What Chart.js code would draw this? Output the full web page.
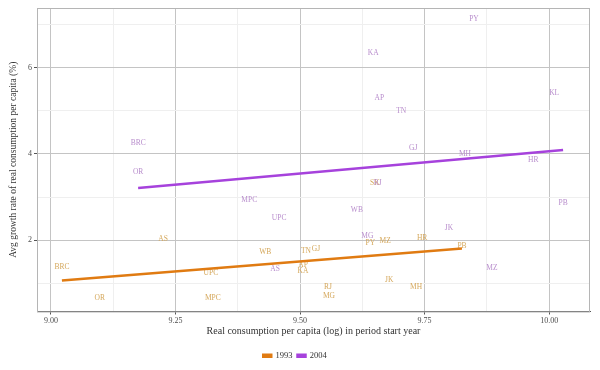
<!DOCTYPE html>
<html>
<head>
<meta charset="utf-8">
<script src="https://cdn.jsdelivr.net/npm/chart.js@4"></script>
<style>
  html, body { margin: 0; padding: 0; background: #fff; }
  #wrap { width: 600px; height: 370px; }
</style>
</head>
<body>
<div id="wrap"><canvas id="growthChart" width="600" height="370"></canvas></div>
<script>
// state labels and values
const states93 = ['BRC', 'OR', 'AS', 'UPC', 'MPC', 'WB', 'TN', 'GJ', 'AP', 'KA', 'RJ', 'MG', 'PY', 'MZ', 'JK', 'MH', 'HR', 'PB', 'SK'];
const cons93 = [9.022, 9.098, 9.225, 9.321, 9.325, 9.430, 9.512, 9.532, 9.506, 9.506, 9.556, 9.558, 9.641, 9.671, 9.679, 9.733, 9.745, 9.825, 9.650];
const growth93 = [1.37, 0.67, 2.02, 1.23, 0.67, 1.72, 1.74, 1.79, 1.42, 1.28, 0.91, 0.70, 1.93, 1.98, 1.07, 0.91, 2.05, 1.86, 3.33];

const states04 = ['PY', 'KA', 'AP', 'TN', 'KL', 'GJ', 'MH', 'HR', 'BRC', 'OR', 'MPC', 'UPC', 'WB', 'RJ', 'MG', 'JK', 'MZ', 'PB', 'AS'];
const cons04 = [9.849, 9.647, 9.659, 9.703, 10.010, 9.727, 9.831, 9.968, 9.175, 9.175, 9.398, 9.458, 9.614, 9.656, 9.635, 9.799, 9.885, 10.028, 9.450];
const growth04 = [7.12, 6.33, 5.30, 5.00, 5.40, 4.14, 4.00, 3.86, 4.26, 3.58, 2.93, 2.51, 2.70, 3.33, 2.09, 2.28, 1.35, 2.86, 1.33];

// fitted lines, end points
const fit93X = [9.022, 9.825];
const fit93Y = [1.07, 1.81];
const fit04X = [9.175, 10.028];
const fit04Y = [3.21, 4.09];

const years = ['1993', '2004'];
const lineColors = ['#e07b12', '#a642dc'];
const textColors = ['#d5a85c', '#b88dcc'];
const serif = '"Liberation Serif", "DejaVu Serif", serif';

function points(xs, ys) {
    return xs.map(function(x, i) { return { x: x, y: ys[i] }; });
}

function isMajorX(v) { return Math.abs(v * 4 - Math.round(v * 4)) < 1e-6; }
function isMajorY(v) { return Math.abs(v / 2 - Math.round(v / 2)) < 1e-6; }

const stateText = {
    id: 'stateText',
    beforeDatasetsDraw(chart) {
        const ctx = chart.ctx;
        const xs = chart.scales.x, ys = chart.scales.y;
        ctx.save();
        ctx.font = '7.5px ' + serif;
        ctx.textAlign = 'center';
        ctx.textBaseline = 'middle';
        [[states93, cons93, growth93], [states04, cons04, growth04]].forEach(function(set, k) {
            ctx.fillStyle = textColors[k];
            set[0].forEach(function(name, i) {
                ctx.fillText(name, xs.getPixelForValue(set[1][i]), ys.getPixelForValue(set[2][i]));
            });
        });
        ctx.restore();
    }
};

const panelBorder = {
    id: 'panelBorder',
    afterDraw(chart) {
        const a = chart.chartArea;
        const ctx = chart.ctx;
        ctx.save();
        ctx.strokeStyle = '#b5b5b5';
        ctx.lineWidth = 1;
        ctx.strokeRect(a.left + 0.5, a.top + 0.5, a.right - a.left - 1, a.bottom - a.top);
        ctx.restore();
    }
};

const ctx = document.getElementById('growthChart').getContext('2d');
new Chart(ctx, {
    type: 'scatter',
    data: {
        datasets: [
            { label: 'labels93', data: points(cons93, growth93), pointRadius: 0, showLine: false },
            { label: 'labels04', data: points(cons04, growth04), pointRadius: 0, showLine: false },
            { label: years[0], data: points(fit93X, fit93Y), showLine: true, borderColor: lineColors[0], backgroundColor: lineColors[0], borderWidth: 2.5, pointRadius: 0 },
            { label: years[1], data: points(fit04X, fit04Y), showLine: true, borderColor: lineColors[1], backgroundColor: lineColors[1], borderWidth: 2.5, pointRadius: 0 }
        ]
    },
    options: {
        responsive: false,
        animation: false,
        layout: { padding: { top: 8, right: 10, bottom: 0, left: 0 } },
        plugins: {
            tooltip: { enabled: false },
            legend: {
                position: 'bottom',
                labels: {
                    filter: function(item) { return item.datasetIndex >= 2; },
                    boxWidth: 8,
                    boxHeight: 2,
                    padding: 5,
                    color: '#333',
                    font: { family: serif, size: 8.5 }
                }
            }
        },
        scales: {
            x: {
                type: 'linear',
                min: 8.972,
                max: 10.082,
                afterFit: function(scale) { scale.height = 35; },
                ticks: {
                    stepSize: 0.125,
                    includeBounds: false,
                    autoSkip: false,
                    maxRotation: 0,
                    padding: 2,
                    color: '#4d4d4d',
                    font: { family: serif, size: 8 },
                    callback: function(v) { return isMajorX(v) ? v.toFixed(2) : ''; }
                },
                grid: {
                    color: function(c) { return isMajorX(c.tick.value) ? '#c4c4c4' : '#efefef'; },
                    tickColor: function(c) { return isMajorX(c.tick.value) ? '#555' : 'rgba(0,0,0,0)'; },
                    tickLength: 3
                },
                border: { color: '#555', width: 1 },
                title: {
                    display: true,
                    text: 'Real consumption per capita (log) in period start year',
                    color: '#333',
                    font: { family: serif, size: 10 },
                    padding: { top: 0, bottom: 9 }
                }
            },
            y: {
                type: 'linear',
                min: 0.35,
                max: 7.38,
                afterFit: function(scale) { scale.width = 37; },
                ticks: {
                    stepSize: 1,
                    includeBounds: false,
                    autoSkip: false,
                    padding: 2,
                    color: '#4d4d4d',
                    font: { family: serif, size: 8 },
                    callback: function(v) { return isMajorY(v) ? String(v) : ''; }
                },
                grid: {
                    color: function(c) { return isMajorY(c.tick.value) ? '#c4c4c4' : '#efefef'; },
                    tickColor: function(c) { return isMajorY(c.tick.value) ? '#555' : 'rgba(0,0,0,0)'; },
                    tickLength: 3
                },
                border: { color: '#555', width: 1 },
                title: {
                    display: true,
                    text: 'Avg growth rate of real consumption per capita (%)',
                    color: '#333',
                    font: { family: serif, size: 9.5 },
                    padding: { top: 8, bottom: 0 }
                }
            }
        }
    },
    plugins: [stateText, panelBorder]
});
</script>
</body>
</html>
